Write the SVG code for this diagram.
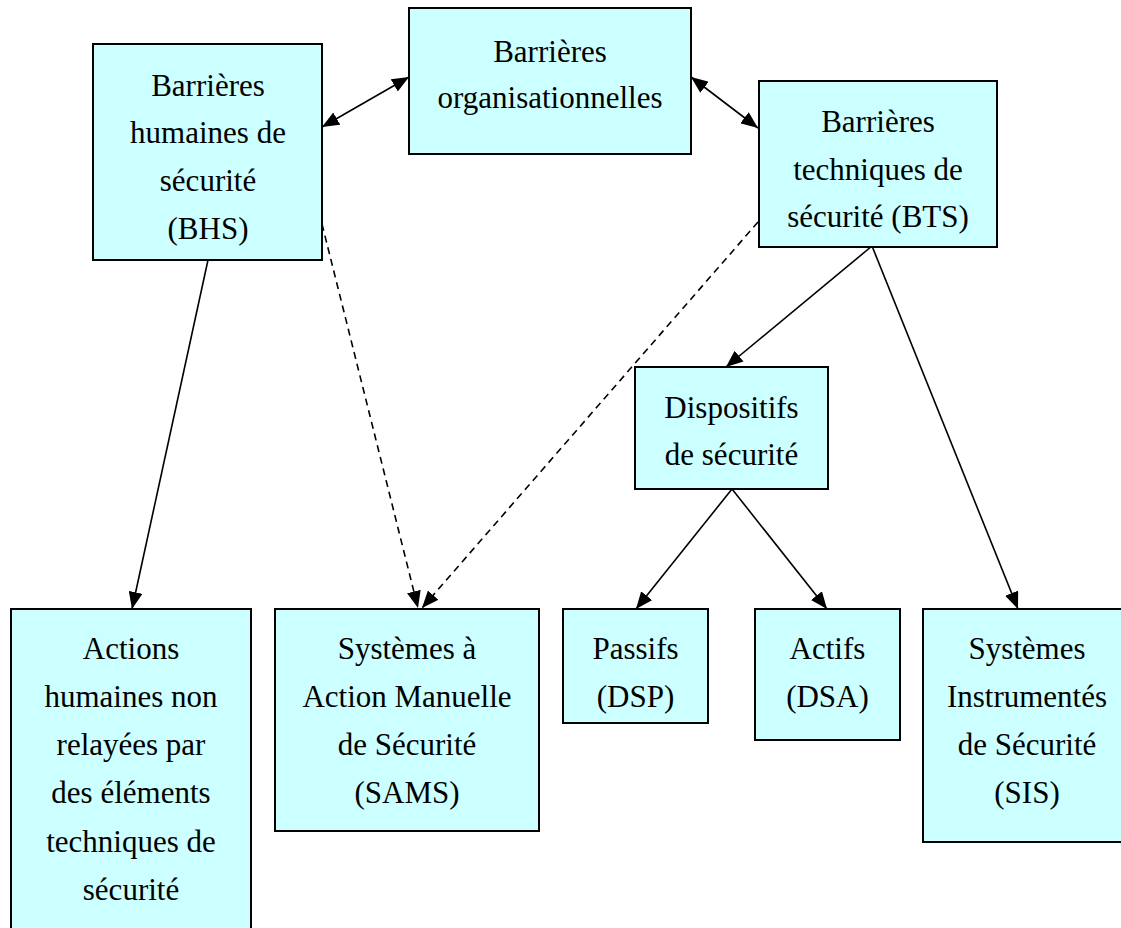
<svg xmlns="http://www.w3.org/2000/svg" width="1121" height="928" viewBox="0 0 1121 928">
<style>
.box{fill:#CCFFFF;stroke:#000;stroke-width:2}
.t{font-family:"Liberation Serif","Times New Roman",serif;font-size:31px;fill:#000;text-anchor:middle}
.c{fill:none;stroke:#000;stroke-width:1.6}
.d{stroke-dasharray:7,5}
</style>
<defs>
<marker id="ah" markerUnits="userSpaceOnUse" markerWidth="18" markerHeight="14" refX="17" refY="7" orient="auto-start-reverse" viewBox="0 0 18 14">
<path d="M0,0 L17,7 L0,14 z" fill="#000"/>
</marker>
</defs>
<rect width="1121" height="928" fill="#fff"/>
<g id="connectors">
<path class="c" d="M322,127 L409,77" marker-start="url(#ah)" marker-end="url(#ah)"/>
<path class="c" d="M691,77 L758,128" marker-start="url(#ah)" marker-end="url(#ah)"/>
<path class="c" d="M208,260 L132,609" marker-end="url(#ah)"/>
<path class="c d" d="M322,224 L418,608" marker-end="url(#ah)"/>
<path class="c d" d="M758,222 L422,608" marker-end="url(#ah)"/>
<path class="c" d="M872,246 L726,367" marker-end="url(#ah)"/>
<path class="c" d="M872,246 L1018,609" marker-end="url(#ah)"/>
<path class="c" d="M732,489 L636,609" marker-end="url(#ah)"/>
<path class="c" d="M732,489 L827,609" marker-end="url(#ah)"/>
</g>
<g id="bhs">
<rect class="box" x="93" y="44" width="229" height="216"/>
<text class="t" x="208" y="96">Barrières</text>
<text class="t" x="208" y="143">humaines de</text>
<text class="t" x="208" y="191">sécurité</text>
<text class="t" x="208" y="239">(BHS)</text>
</g>
<g id="org">
<rect class="box" x="409" y="8" width="282" height="146"/>
<text class="t" x="550" y="62">Barrières</text>
<text class="t" x="550" y="108">organisationnelles</text>
</g>
<g id="bts">
<rect class="box" x="759" y="81" width="238" height="166"/>
<text class="t" x="878" y="132">Barrières</text>
<text class="t" x="878" y="180">techniques de</text>
<text class="t" x="878" y="227">sécurité (BTS)</text>
</g>
<g id="dispositifs">
<rect class="box" x="635" y="367" width="193" height="122"/>
<text class="t" x="731.5" y="418">Dispositifs</text>
<text class="t" x="731.5" y="465">de sécurité</text>
</g>
<g id="actions">
<rect class="box" x="11" y="609" width="240" height="330"/>
<text class="t" x="131" y="659">Actions</text>
<text class="t" x="131" y="707">humaines non</text>
<text class="t" x="131" y="755">relayées par</text>
<text class="t" x="131" y="803">des éléments</text>
<text class="t" x="131" y="852">techniques de</text>
<text class="t" x="131" y="900">sécurité</text>
</g>
<g id="sams">
<rect class="box" x="275" y="609" width="264" height="222"/>
<text class="t" x="407" y="659">Systèmes à</text>
<text class="t" x="407" y="707">Action Manuelle</text>
<text class="t" x="407" y="755">de Sécurité</text>
<text class="t" x="407" y="803">(SAMS)</text>
</g>
<g id="passifs">
<rect class="box" x="563" y="609" width="145" height="114"/>
<text class="t" x="635.5" y="659">Passifs</text>
<text class="t" x="635.5" y="707">(DSP)</text>
</g>
<g id="actifs">
<rect class="box" x="755" y="609" width="145" height="131"/>
<text class="t" x="827.5" y="659">Actifs</text>
<text class="t" x="827.5" y="707">(DSA)</text>
</g>
<g id="sis">
<rect class="box" x="923" y="609" width="208" height="233"/>
<text class="t" x="1027" y="659">Systèmes</text>
<text class="t" x="1027" y="707">Instrumentés</text>
<text class="t" x="1027" y="755">de Sécurité</text>
<text class="t" x="1027" y="803">(SIS)</text>
</g>
</svg>
